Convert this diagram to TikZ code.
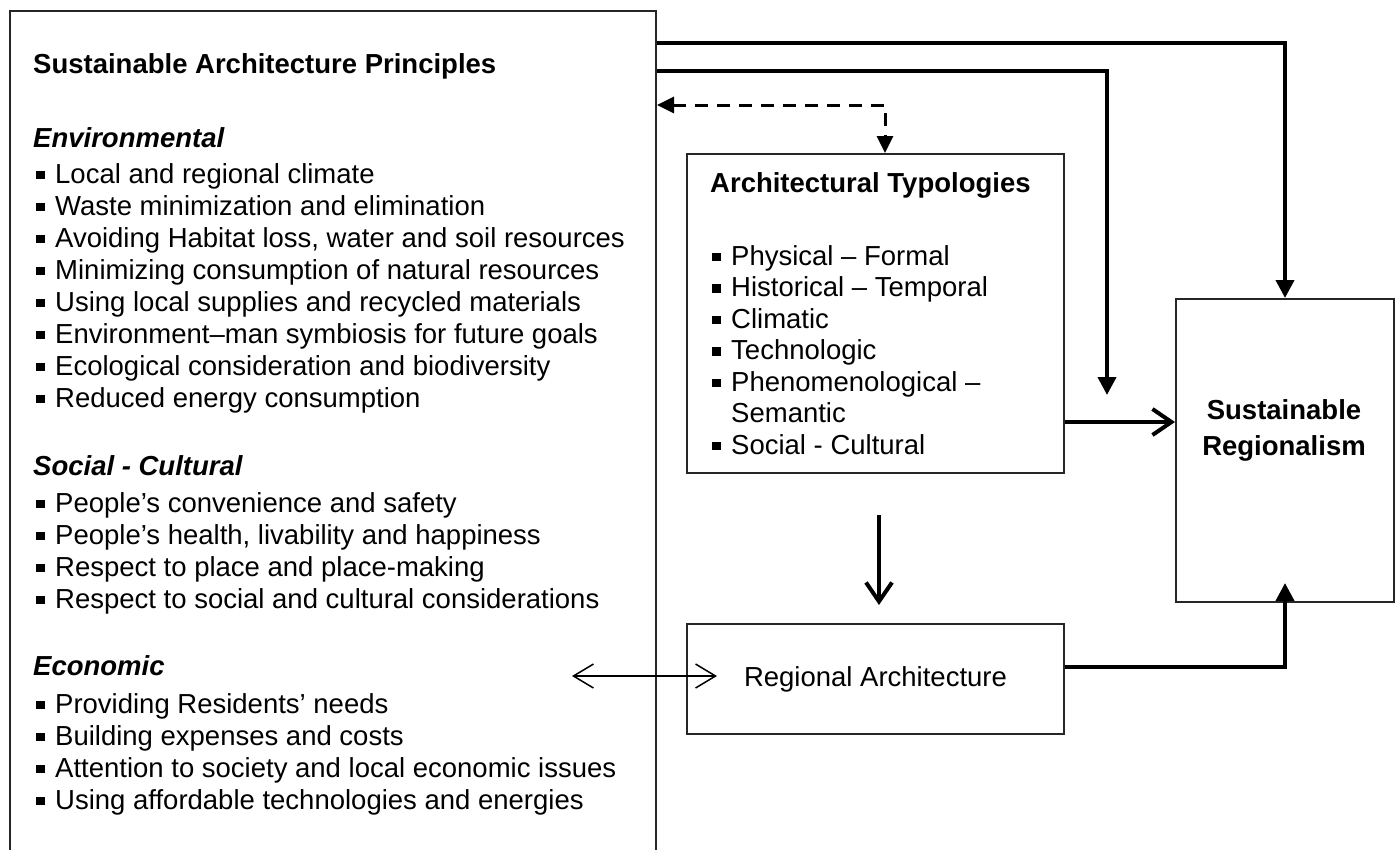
\documentclass[tikz,border=0pt]{standalone}
\usepackage{fontspec}
\setmainfont{Liberation Sans}
\usetikzlibrary{arrows.meta}

% bullet item: small square, then the text
\newcommand{\itm}[1]{\makebox[19pt][l]{\rule[4pt]{8.5pt}{8.5pt}}#1}

\begin{document}
\begin{tikzpicture}[x=1pt, y=-1pt,
            every node/.style={inner sep=0pt, font=\fontsize{27.5}{32}\selectfont},
            box/.style={draw=black!85, line width=2pt, anchor=north west},
            txt/.style={anchor=base west},
            title/.style={anchor=base west, font=\fontsize{27.5}{32}\selectfont\bfseries},
            head/.style={anchor=base west, font=\fontsize{27.5}{32}\selectfont\bfseries\itshape},
            bigarrow/.style={draw, line width=4pt, -{Triangle[width=18pt,length=18pt]}},
            openarrow/.style={draw, line width=4pt, -{Straight Barb[width=26pt,length=19pt]}},
            twoway/.style={draw, line width=1.5pt, {Straight Barb[width=24pt,length=20pt]}-{Straight Barb[width=24pt,length=20pt]}},
            dasharrow/.style={draw, line width=3pt, dash pattern=on 13pt off 9pt,
              {Triangle[width=16pt,length=17pt]}-{Triangle[width=16pt,length=17pt]}}
          ]
  \useasboundingbox (0,0) rectangle (1397,849);
  \clip (0,0) rectangle (1397,849);

  % boxes
  \node[box, minimum width=646pt, minimum height=900pt] (prin) at (9,10) {};
  \node[box, minimum width=377pt, minimum height=319pt] (typ) at (686,153) {};
  \node[box, minimum width=377pt, minimum height=110pt] (reg) at (686,623) {Regional Architecture};
  \node[box, minimum width=218pt, minimum height=303pt] (sreg) at (1175,298) {};
  \node[align=center, font=\fontsize{27.5}{36}\selectfont\bfseries] (sregtxt) at (1284,430)
    {Sustainable\\Regionalism};

  % principles
  \node[title] (printitle) at (33,73) {Sustainable Architecture Principles};

  \node[head] (env) at (33,147) {Environmental};
  \foreach \t [count=\i from 0] in {Local and regional climate,
      Waste minimization and elimination,
      {Avoiding Habitat loss, water and soil resources},
      Minimizing consumption of natural resources,
      Using local supplies and recycled materials,
      Environment–man symbiosis for future goals,
      Ecological consideration and biodiversity,
      Reduced energy consumption}
    \node[txt] (env\i) at (36,183+32*\i) {\itm{\t}};

  \node[head] (soc) at (33,475) {Social - Cultural};
  \foreach \t [count=\i from 0] in {People’s convenience and safety,
      {People’s health, livability and happiness},
      Respect to place and place-making,
      Respect to social and cultural considerations}
    \node[txt] (soc\i) at (36,512+32*\i) {\itm{\t}};

  \node[head] (eco) at (33,675) {Economic};
  \foreach \t [count=\i from 0] in {Providing Residents’ needs,
      Building expenses and costs,
      Attention to society and local economic issues,
      Using affordable technologies and energies}
    \node[txt] (eco\i) at (36,713+32*\i) {\itm{\t}};

  % typologies
  \node[title] (typtitle) at (710,192) {Architectural Typologies};
  \foreach \t/\y [count=\i] in {Physical – Formal/265, Historical – Temporal/296.5,
      Climatic/328, Technologic/359.5, Phenomenological –/391, Social - Cultural/454}
    \node[txt] (typ\i) at (712,\y) {\itm{\t}};
  \node[txt] (typsem) at (731,422.5) {Semantic};

  % connectors
  \coordinate (drop) at (1107,395);
  \draw[bigarrow] ([yshift=-33pt]prin.north east) -| (sreg.north);
  \draw[bigarrow] ([yshift=-61pt]prin.north east) -| (drop);
  \draw[dasharrow] ([yshift=-95pt]prin.north east) -| ([xshift=9.5pt]typ.north);
  \draw[openarrow] ([yshift=-108.5pt]typ.east) -- ([yshift=28.5pt]sreg.west);
  \draw[openarrow] ([xshift=3.5pt,yshift=-41pt]typ.south) -- ([xshift=3.5pt,yshift=18pt]reg.north);
  \draw[twoway] ([xshift=-114pt,yshift=3pt]reg.west) -- ([xshift=31pt,yshift=3pt]reg.west);
  \draw[bigarrow] ([yshift=12pt]reg.east) -| ([yshift=20pt]sreg.south);
\end{tikzpicture}
\end{document}
